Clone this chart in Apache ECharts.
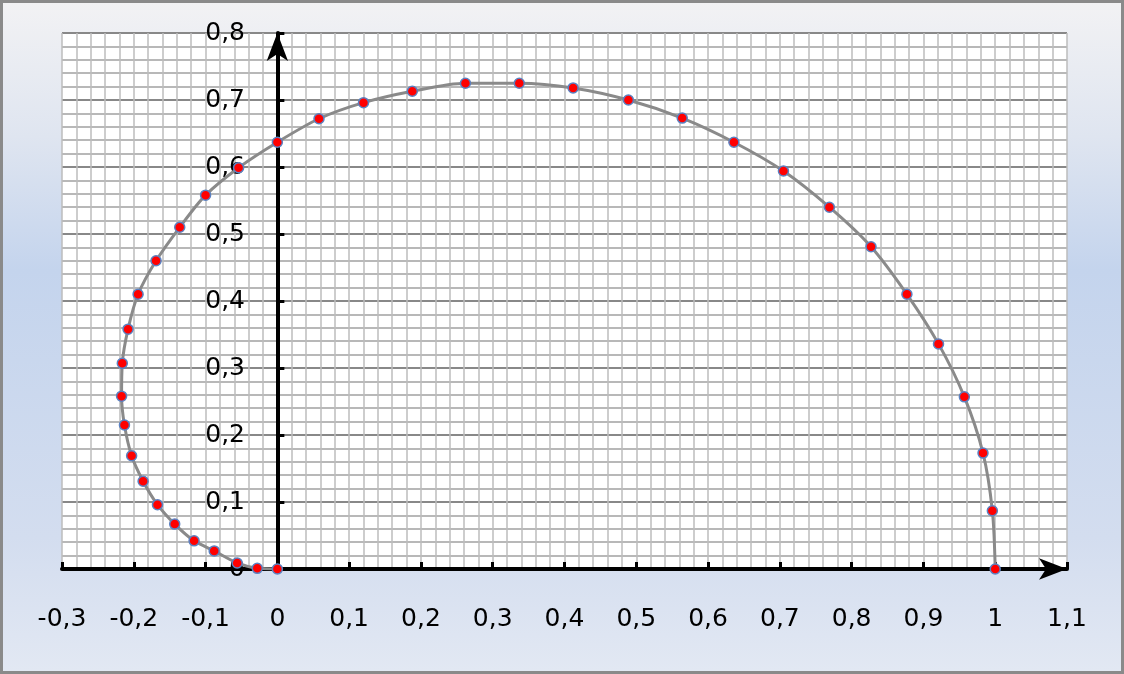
<!DOCTYPE html>
<html>
<head>
<meta charset="utf-8">
<script src="https://cdn.jsdelivr.net/npm/echarts@6/dist/echarts.min.js"></script>
<style>
  html, body { margin: 0; padding: 0; }
  #bg {
    position: absolute; left: 0; top: 0; width: 1124px; height: 674px;
    box-sizing: border-box; border: 3px solid #8a8a8a;
    background: linear-gradient(to bottom, #f2f2f4 0%, #dfe5f0 20%, #c4d4ed 40%, #d3ddef 80%, #e2e8f3 100%);
  }
  #chart { position: absolute; left: 0; top: 0; width: 1124px; height: 674px; }
</style>
</head>
<body>
<div id="bg"></div>
<div id="chart"></div>
<script>
// Data
const xValues = [1.0, 0.996, 0.983, 0.957, 0.921, 0.877, 0.827, 0.769, 0.705, 0.636,
  0.564, 0.489, 0.412, 0.337, 0.262, 0.188, 0.120, 0.058, 0.0, -0.054,
  -0.100, -0.136, -0.169, -0.194, -0.208, -0.216, -0.217, -0.213, -0.203, -0.187,
  -0.167, -0.143, -0.116, -0.088, -0.056, -0.028, 0.0];
const yValues = [0.0, 0.087, 0.173, 0.257, 0.336, 0.410, 0.481, 0.540, 0.594, 0.637,
  0.673, 0.700, 0.718, 0.725, 0.725, 0.713, 0.696, 0.672, 0.637, 0.599,
  0.558, 0.510, 0.460, 0.410, 0.358, 0.307, 0.258, 0.215, 0.169, 0.131,
  0.096, 0.067, 0.042, 0.027, 0.009, 0.001, 0.0];
const xTickMin = -0.3, xTickMax = 1.1, xTickStep = 0.1;
const yTickMin = 0, yTickMax = 0.8, yTickStep = 0.1;
const gridStep = 0.02;

const points = xValues.map((x, i) => [x, yValues[i]]);
const fmt = v => {
  const r = Math.round(v * 10) / 10;
  return String(r).replace('.', ',');
};

const chart = echarts.init(document.getElementById('chart'), null, { renderer: 'canvas' });
const labelFont = { fontFamily: 'DejaVu Sans', fontSize: 25, color: '#000' };
const hiddenParts = {
  axisLine: { show: false, onZero: false },
  axisTick: { show: false },
  axisLabel: { show: false }
};

chart.setOption({
  backgroundColor: 'transparent',
  animation: false,
  grid: {
    left: 62, right: 57, top: 33, bottom: 105,
    containLabel: false, outerBoundsMode: 'none',
    show: true, backgroundColor: '#ffffff', borderWidth: 0
  },
  xAxis: [{
    type: 'value', min: xTickMin, max: xTickMax, interval: xTickStep,
    axisLine: {
      show: true, onZero: true,
      symbol: ['none', 'arrow'], symbolSize: [16, 28], symbolOffset: [0, 0],
      lineStyle: { color: '#000', width: 4 }
    },
    axisTick: { show: true, inside: true, length: 7, lineStyle: { color: '#000', width: 3 } },
    axisLabel: Object.assign({ margin: 38, formatter: fmt, showMinLabel: true, showMaxLabel: true, hideOverlap: false }, labelFont),
    splitLine: { show: false }
  }, Object.assign({
    type: 'value', position: 'top', min: xTickMin, max: xTickMax, interval: gridStep,
    splitLine: { show: true, lineStyle: { color: '#bdbdbd', width: 1.5 } }
  }, hiddenParts)],
  yAxis: [{
    type: 'value', min: yTickMin, max: yTickMax, interval: yTickStep,
    axisLine: {
      show: true, onZero: true,
      symbol: ['none', 'arrow'], symbolSize: [16, 28], symbolOffset: [0, 0],
      lineStyle: { color: '#000', width: 4 }
    },
    axisTick: { show: true, inside: true, length: 7, lineStyle: { color: '#000', width: 3 } },
    axisLabel: Object.assign({ margin: -183, align: 'right', formatter: fmt, showMinLabel: true, showMaxLabel: true, hideOverlap: false }, labelFont),
    splitLine: { show: false }
  }, Object.assign({
    type: 'value', position: 'right', min: yTickMin, max: yTickMax, interval: gridStep,
    splitLine: { show: true, lineStyle: { color: ['#888888', '#b8b8b8', '#b8b8b8', '#b8b8b8', '#b8b8b8'], width: 2 } }
  }, hiddenParts)],
  series: [{
    type: 'line',
    xAxisIndex: 0, yAxisIndex: 0,
    data: points,
    smooth: 0.3,
    symbol: 'circle',
    symbolSize: 10,
    lineStyle: { color: '#8a8a8a', width: 3 },
    itemStyle: { color: '#ff0000', borderColor: '#5b82c2', borderWidth: 1.5 },
    z: 5
  }]
});
</script>
</body>
</html>
